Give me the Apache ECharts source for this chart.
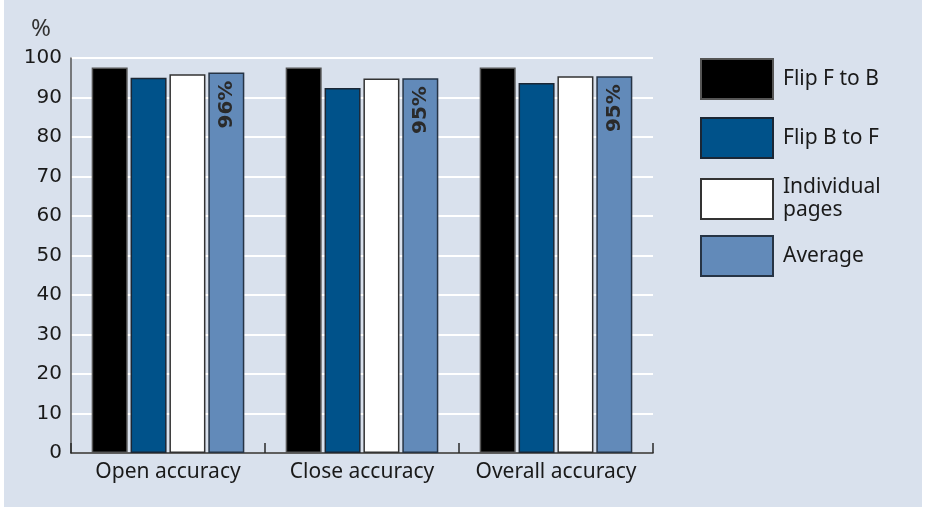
<!DOCTYPE html>
<html>
<head>
<meta charset="utf-8">
<script src="https://cdn.jsdelivr.net/npm/echarts@6/dist/echarts.min.js"></script>
<style>
html,body{margin:0;padding:0;background:#ffffff;}
#chart{width:928px;height:510px;}
</style>
</head>
<body>
<div id="chart"></div>
<script>
var categories = ['Open accuracy', 'Close accuracy', 'Overall accuracy'];
var flipFtoB = [97.6, 97.6, 97.6];
var flipBtoF = [95.0, 92.4, 93.7];
var individualPages = [95.9, 94.8, 95.4];
var average = [96.3, 94.9, 95.4];
var averageLabels = ['96%', '95%', '95%'];
var seriesNames = ['Flip F to B', 'Flip B to F', 'Individual pages', 'Average'];
var legendLabels = ['Flip F to B', 'Flip B to F', 'Individual\npages', 'Average'];
var yTicks = [0, 10, 20, 30, 40, 50, 60, 70, 80, 90, 100];

var FONT = '"Noto Sans", "DejaVu Sans", sans-serif';
var NUMFONT = '"DejaVu Sans", sans-serif';
var FS = 21;
var chart = echarts.init(document.getElementById('chart'), null, {renderer: 'canvas'});

function bar(name, data, color, border, extra) {
  var s = {
    name: name,
    type: 'bar',
    data: data,
    barWidth: 36,
    barGap: '8%',
    itemStyle: {color: color, borderColor: border, borderWidth: 1.5},
    emphasis: {disabled: true}
  };
  for (var k in extra) s[k] = extra[k];
  return s;
}

var legendTops = [58, 117, 176, 235];
var legends = seriesNames.map(function (n, i) {
  return {
    orient: 'vertical',
    left: 700,
    top: legendTops[i],
    padding: 0,
    itemWidth: 72,
    itemHeight: 40,
    itemGap: 10,
    icon: 'rect',
    selectedMode: false,
    textStyle: {fontFamily: FONT, fontSize: FS, color: '#1a1a1a', lineHeight: 23, padding: [0, 0, 0, 5]},
    formatter: function () { return legendLabels[i]; },
    data: [n]
  };
});

var option = {
  animation: false,
  backgroundColor: '#ffffff',
  graphic: [{
    type: 'rect', z: -10, silent: true,
    shape: {x: 4, y: 0, width: 918, height: 507},
    style: {fill: '#d9e1ed'}
  }],
  grid: {left: 71, right: 275, top: 58, bottom: 57},
  legend: legends,
  xAxis: {
    type: 'category',
    data: categories,
    axisLine: {lineStyle: {color: '#2a2a2a', width: 1.5}},
    axisTick: {show: true, inside: true, length: 10, lineStyle: {color: '#2a2a2a', width: 1.5}},
    axisLabel: {fontFamily: FONT, fontSize: FS, color: '#1a1a1a', margin: 9, interval: 0}
  },
  yAxis: {
    type: 'value',
    min: 0, max: 100, interval: 10,
    name: '%',
    nameLocation: 'end',
    nameGap: 17,
    nameTextStyle: {fontFamily: FONT, fontSize: 24, color: '#333333', align: 'right', padding: [0, 20, 0, 0]},
    axisLine: {show: true, lineStyle: {color: '#555555', width: 1.5}},
    axisTick: {show: false},
    axisLabel: {fontFamily: NUMFONT, fontSize: 20, color: '#1a1a1a', margin: 9,
      customValues: yTicks},
    splitLine: {show: true, lineStyle: {color: '#ffffff', width: 2}}
  },
  series: [
    bar(seriesNames[0], flipFtoB, '#000000', '#555555', {}),
    bar(seriesNames[1], flipBtoF, '#00528a', '#1b2735', {}),
    bar(seriesNames[2], individualPages, '#ffffff', '#333333', {}),
    bar(seriesNames[3], average, '#628ab9', '#263445', {
      label: {
        show: true,
        position: 'insideTop',
        rotate: 90,
        align: 'right',
        verticalAlign: 'middle',
        distance: 8,
        fontFamily: NUMFONT,
        fontSize: 20,
        fontWeight: 'bold',
        color: '#2a2a2a',
        formatter: function (p) { return averageLabels[p.dataIndex]; }
      }
    })
  ]
};
chart.setOption(option);
</script>
</body>
</html>
